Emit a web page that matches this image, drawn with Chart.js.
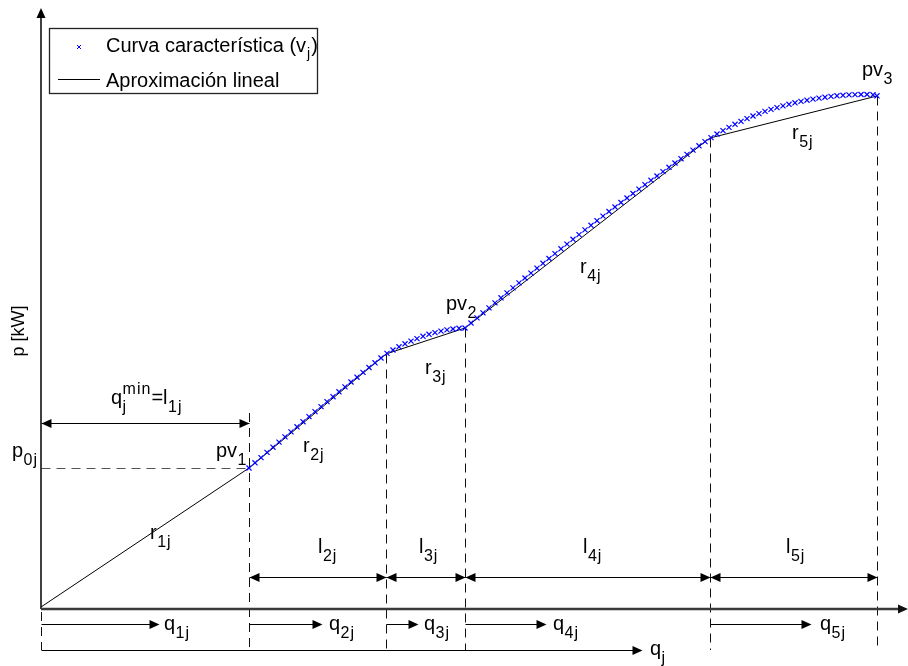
<!DOCTYPE html>
<html>
<head>
<meta charset="utf-8">
<script src="https://cdn.jsdelivr.net/npm/chart.js@4/dist/chart.umd.min.js"></script>
<style>
  html, body { margin: 0; padding: 0; background: #fff; }
  canvas { display: block; }
</style>
</head>
<body>
<canvas id="c" width="908" height="666"></canvas>
<script>
// Breakpoints of the piecewise-linear approximation (q, p)
const knotQ = [0, 20.8, 34.5, 42.4, 66.9, 83.6];
const knotP = [0, 13.9, 25.3, 27.9, 46.9, 51.1];

// Sampled characteristic curve v_j
const curveQ = [
  20.8, 21.4, 22.0, 22.6, 23.2, 23.8, 24.4, 25.0, 25.6, 26.2, 26.8, 27.4, 28.0, 28.6, 29.2, 29.8,
  30.4, 31.0, 31.6, 32.2, 32.8, 33.4, 34.0,
  34.6, 35.2, 35.8, 36.4, 37.0, 37.6, 38.2, 38.8, 39.4, 40.0, 40.6, 41.2, 41.8, 42.4,
  43.0, 43.6, 44.2, 44.8, 45.4, 46.0, 46.6, 47.2, 47.8, 48.4, 49.0, 49.6, 50.2, 50.8, 51.4, 52.0,
  52.6, 53.2, 53.8, 54.4, 55.0, 55.6, 56.2, 56.8, 57.4, 58.0, 58.6, 59.2, 59.8, 60.4, 61.0, 61.6,
  62.2, 62.8, 63.4, 64.0, 64.6, 65.2, 65.8, 66.4,
  67.0, 67.6, 68.2, 68.8, 69.4, 70.0, 70.6, 71.2, 71.8, 72.4, 73.0, 73.6, 74.2, 74.8, 75.4, 76.0,
  76.6, 77.2, 77.8, 78.4, 79.0, 79.6, 80.2, 80.8, 81.4, 82.0, 82.6, 83.2, 83.6
];
const curveP = [
  13.90, 14.42, 14.94, 15.46, 15.98, 16.49, 17.01, 17.51, 18.02, 18.53, 19.04, 19.54, 20.04, 20.54, 21.03, 21.52,
  22.01, 22.50, 22.98, 23.46, 23.95, 24.42, 24.90,
  25.36, 25.70, 26.02, 26.32, 26.59, 26.84, 27.07, 27.27, 27.44, 27.59, 27.71, 27.80, 27.87, 27.90,
  28.40, 28.91, 29.41, 29.91, 30.41, 30.92, 31.41, 31.91, 32.41, 32.90, 33.39, 33.88, 34.37, 34.85, 35.34, 35.82,
  36.29, 36.77, 37.24, 37.71, 38.17, 38.63, 39.09, 39.55, 40.00, 40.45, 40.90, 41.35, 41.79, 42.23, 42.67, 43.10,
  43.54, 43.97, 44.40, 44.83, 45.26, 45.69, 46.12, 46.54,
  46.94, 47.30, 47.64, 47.96, 48.27, 48.56, 48.84, 49.10, 49.34, 49.56, 49.76, 49.94, 50.11, 50.27, 50.42, 50.56,
  50.68, 50.79, 50.89, 50.98, 51.06, 51.12, 51.17, 51.21, 51.24, 51.25, 51.25, 51.22, 51.12
];

// End points of the partial-power arrows q_ij and of the total q_j arrow
const qArrowEnd = [11.8, 28.1, 37.7, 50.5, 77.0];
const qTotalEnd = 60.1;

const legendLabels = ['Curva característica (v', 'Aproximación lineal'];

const FONT = '"Liberation Sans", Arial, Helvetica, sans-serif';
const MAIN = 20, SUB = 16;

function head(ctx, x, y, dir) {
  const L = 10, W = 4.5;
  ctx.beginPath();
  if (dir === 'up') {
    ctx.moveTo(x, y); ctx.lineTo(x - W, y + L); ctx.lineTo(x + W, y + L);
  } else {
    ctx.moveTo(x, y); ctx.lineTo(x - dir * L, y - W); ctx.lineTo(x - dir * L, y + W);
  }
  ctx.closePath();
  ctx.fill();
}

// Text with optional subscript / superscript pieces
function rich(ctx, x, y, pieces) {
  let cx = x;
  for (const p of pieces) {
    ctx.font = MAIN + 'px ' + FONT;
    ctx.letterSpacing = '0px';
    if (p.t) { ctx.fillText(p.t, cx, y); cx += ctx.measureText(p.t).width; }
    ctx.font = SUB + 'px ' + FONT;
    ctx.letterSpacing = '1px';
    let w = 0;
    if (p.sub) { ctx.fillText(p.sub, cx + 0.5, y + 8); w = Math.max(w, ctx.measureText(p.sub).width + 0.5); }
    if (p.sup) { ctx.fillText(p.sup, cx + 0.5, y - 10); w = Math.max(w, ctx.measureText(p.sup).width + 0.5); }
    cx += w;
  }
  ctx.letterSpacing = '0px';
}

const labels = [
  { x: 12,  y: 457, p: [{ t: 'p', sub: '0j' }] },
  { x: 216, y: 457, p: [{ t: 'pv', sub: '1' }] },
  { x: 446, y: 310, p: [{ t: 'pv', sub: '2' }] },
  { x: 862, y: 76,  p: [{ t: 'pv', sub: '3' }] },
  { x: 111, y: 404, p: [{ t: 'q', sub: 'j', sup: 'min' }, { t: '=l', sub: '1j' }] },
  { x: 150, y: 539, p: [{ t: 'r', sub: '1j' }] },
  { x: 303, y: 452, p: [{ t: 'r', sub: '2j' }] },
  { x: 425, y: 374, p: [{ t: 'r', sub: '3j' }] },
  { x: 580, y: 273, p: [{ t: 'r', sub: '4j' }] },
  { x: 792, y: 139, p: [{ t: 'r', sub: '5j' }] },
  { x: 318, y: 553, p: [{ t: 'l', sub: '2j' }] },
  { x: 419, y: 553, p: [{ t: 'l', sub: '3j' }] },
  { x: 583, y: 553, p: [{ t: 'l', sub: '4j' }] },
  { x: 786, y: 553, p: [{ t: 'l', sub: '5j' }] },
  { x: 164, y: 630, p: [{ t: 'q', sub: '1j' }] },
  { x: 329, y: 630, p: [{ t: 'q', sub: '2j' }] },
  { x: 424, y: 630, p: [{ t: 'q', sub: '3j' }] },
  { x: 553, y: 630, p: [{ t: 'q', sub: '4j' }] },
  { x: 820, y: 630, p: [{ t: 'q', sub: '5j' }] },
  { x: 650, y: 655, p: [{ t: 'q', sub: 'j' }] }
];

const schematic = {
  id: 'schematic',
  beforeDatasetsDraw(chart) {
    const ctx = chart.ctx, xs = chart.scales.x, ys = chart.scales.y, a = chart.chartArea;
    const X = v => Math.round(xs.getPixelForValue(v)) + 0.5;
    const Y = v => Math.round(ys.getPixelForValue(v)) + 0.5;
    const x0 = X(0), axisY = a.bottom + 2;
    const lowEnd = a.bottom + 43;
    ctx.save();

    // dashed guides
    ctx.setLineDash([9, 6]);
    ctx.lineWidth = 1;
    ctx.strokeStyle = '#555';
    ctx.beginPath(); ctx.moveTo(x0, Y(knotP[1])); ctx.lineTo(X(knotQ[1]), Y(knotP[1])); ctx.stroke();
    ctx.strokeStyle = '#111';
    for (let i = 1; i < knotQ.length; i++) {
      const top = i === 1 ? a.bottom - 194 : Y(knotP[i]);
      ctx.beginPath(); ctx.moveTo(X(knotQ[i]), top); ctx.lineTo(X(knotQ[i]), lowEnd); ctx.stroke();
    }
    ctx.beginPath(); ctx.moveTo(x0, axisY + 3); ctx.lineTo(x0, lowEnd); ctx.stroke();
    ctx.setLineDash([]);

    // axes
    ctx.fillStyle = '#000';
    ctx.strokeStyle = '#000';
    ctx.lineWidth = 1.5;
    ctx.beginPath(); ctx.moveTo(x0 - 0.5, axisY); ctx.lineTo(x0 - 0.5, 16); ctx.stroke();
    head(ctx, x0 - 0.5, 8, 'up');
    ctx.strokeStyle = '#3a3a3a';
    ctx.lineWidth = 2.6;
    ctx.beginPath(); ctx.moveTo(x0 - 0.5, axisY); ctx.lineTo(900, axisY); ctx.stroke();
    ctx.fillStyle = '#111';
    head(ctx, 908, axisY, 1);
    ctx.restore();
  },
  afterDatasetsDraw(chart) {
    const ctx = chart.ctx, xs = chart.scales.x, a = chart.chartArea;
    const X = v => Math.round(xs.getPixelForValue(v)) + 0.5;
    const x0 = X(0);
    ctx.save();
    ctx.fillStyle = '#000';
    ctx.strokeStyle = '#000';
    ctx.lineWidth = 1;

    // q_min = l_1j dimension arrow
    const minRow = a.bottom - 184 + 0.5;
    ctx.beginPath(); ctx.moveTo(x0, minRow); ctx.lineTo(X(knotQ[1]), minRow); ctx.stroke();
    head(ctx, x0, minRow, -1); head(ctx, X(knotQ[1]), minRow, 1);

    // l_ij dimension arrows
    const lRow = a.bottom - 30 + 0.5;
    for (let i = 1; i < knotQ.length - 1; i++) {
      const xa = X(knotQ[i]), xb = X(knotQ[i + 1]);
      ctx.beginPath(); ctx.moveTo(xa, lRow); ctx.lineTo(xb, lRow); ctx.stroke();
      head(ctx, xa, lRow, -1); head(ctx, xb, lRow, 1);
    }

    // q_ij arrows
    const qRow = a.bottom + 17 + 0.5;
    for (let i = 0; i < qArrowEnd.length; i++) {
      const xa = X(knotQ[i]), xb = X(qArrowEnd[i]);
      ctx.beginPath(); ctx.moveTo(xa, qRow); ctx.lineTo(xb - 4, qRow); ctx.stroke();
      head(ctx, xb, qRow, 1);
    }
    // total q_j arrow
    const qjRow = a.bottom + 43 + 0.5;
    ctx.beginPath(); ctx.moveTo(x0, qjRow); ctx.lineTo(X(qTotalEnd) - 4, qjRow); ctx.stroke();
    head(ctx, X(qTotalEnd), qjRow, 1);

    // annotations
    ctx.textBaseline = 'alphabetic';
    ctx.textAlign = 'left';
    for (const l of labels) rich(ctx, l.x, l.y, l.p);

    // axis title
    ctx.save();
    ctx.translate(24, 331);
    ctx.rotate(-Math.PI / 2);
    ctx.textAlign = 'center';
    ctx.font = '18px ' + FONT;
    ctx.fillText('p [kW]', 0, 0);
    ctx.restore();

    // legend
    ctx.lineWidth = 1.3;
    ctx.strokeStyle = '#222';
    ctx.strokeRect(49.5, 28.5, 268, 65);
    ctx.strokeStyle = '#0000ff';
    ctx.lineWidth = 1;
    ctx.beginPath();
    ctx.moveTo(77, 45); ctx.lineTo(81, 49); ctx.moveTo(81, 45); ctx.lineTo(77, 49);
    ctx.stroke();
    ctx.strokeStyle = '#000';
    ctx.beginPath(); ctx.moveTo(58, 79.5); ctx.lineTo(100, 79.5); ctx.stroke();
    ctx.fillStyle = '#000';
    ctx.font = '20px ' + FONT;
    ctx.fillText(legendLabels[0], 106, 52);
    const w = ctx.measureText(legendLabels[0]).width;
    ctx.font = '14px ' + FONT;
    ctx.fillText('j', 106 + w + 1, 58);
    const wj = ctx.measureText('j').width;
    ctx.font = '20px ' + FONT;
    ctx.fillText(')', 106 + w + wj + 2, 52);
    ctx.fillText(legendLabels[1], 106, 87);
    ctx.restore();
  }
};

new Chart(document.getElementById('c'), {
  type: 'scatter',
  data: {
    datasets: [
      {
        label: legendLabels[0],
        data: curveQ.map((q, i) => ({ x: q, y: curveP[i] })),
        pointStyle: 'crossRot',
        pointRadius: 3.6,
        pointBorderWidth: 1.2,
        borderColor: '#0000ff',
        backgroundColor: '#0000ff',
        showLine: false
      },
      {
        label: legendLabels[1],
        data: knotQ.map((q, i) => ({ x: q, y: knotP[i] })),
        showLine: true,
        borderColor: '#000',
        borderWidth: 1,
        pointRadius: 0,
        fill: false
      }
    ]
  },
  options: {
    responsive: false,
    animation: false,
    events: [],
    layout: { padding: { left: 41, right: 7, top: 7, bottom: 59 } },
    scales: {
      x: { type: 'linear', min: 0, max: 86, display: false },
      y: { type: 'linear', min: 0, max: 60, display: false }
    },
    plugins: { legend: { display: false }, tooltip: { enabled: false } }
  },
  plugins: [schematic]
});
</script>
</body>
</html>
